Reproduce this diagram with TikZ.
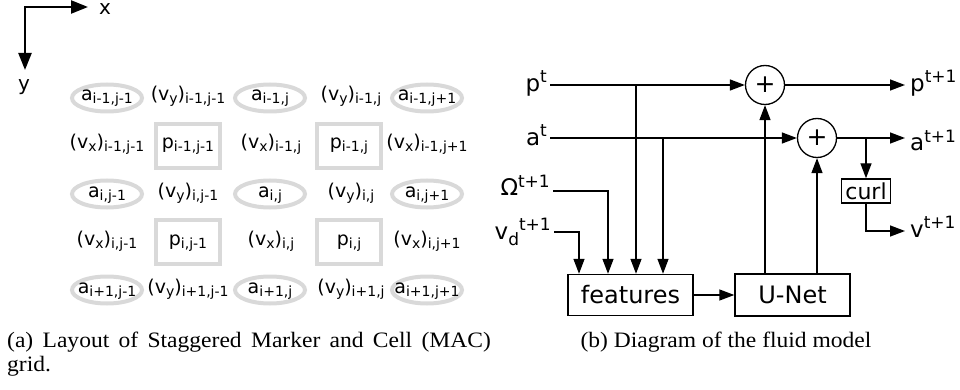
\documentclass[tikz,border=0pt]{standalone}
\usepackage{fontspec}
\setmainfont{Liberation Serif}
\newfontfamily\dv{DejaVu Sans}
\usetikzlibrary{arrows.meta,shapes.geometric}
\definecolor{cellgray}{HTML}{D9D9D9}

% lowered / raised indices in the sans labels
\newcommand\gsub[1]{\raisebox{-3pt}{\fontsize{14}{14}\selectfont #1}}
\newcommand\dsup[1]{\raisebox{9pt}{\fontsize{17}{17}\selectfont #1}}
\newcommand\dsub[1]{\raisebox{-6pt}{\fontsize{17}{17}\selectfont #1}}
% caption lettering, slightly widened
\newcommand\capwide[1]{\scalebox{1.07}[1]{#1}}

\tikzset{
  ring/.style={ellipse, draw=cellgray, line width=4pt, minimum width=70pt, minimum height=27pt, inner sep=0pt},
  pbox/.style={rectangle, draw=cellgray, line width=4pt, minimum width=64pt, minimum height=44pt, inner sep=0pt},
  gtxt/.style={font=\dv\fontsize{19}{19}\selectfont, inner sep=0pt, anchor=base},
  axis/.style={line width=2.3pt, line join=miter, {Triangle[length=17pt,width=13pt]}-{Triangle[length=17pt,width=13pt]}},
  axlbl/.style={font=\dv\fontsize{20}{20}\selectfont, inner sep=0pt, anchor=base},
  flow/.style={line width=1.4pt, -{Triangle[length=15pt,width=11pt]}},
  blk/.style={rectangle, draw, line width=1.4pt, inner sep=0pt, font=\dv\fontsize{24}{24}\selectfont},
  sumnode/.style={circle, draw, line width=1.3pt, minimum size=39pt, inner sep=0pt, font=\dv\fontsize{25}{25}\selectfont},
  inlbl/.style={font=\dv\fontsize{23}{23}\selectfont, inner ysep=0pt, inner xsep=3pt, anchor=base east},
  outlbl/.style={font=\dv\fontsize{23}{23}\selectfont, inner ysep=0pt, inner xsep=5pt, anchor=base west},
  captxt/.style={font=\fontsize{22}{22}\selectfont, inner sep=0pt}
}

\begin{document}
\begin{tikzpicture}[x=1pt,y=-1pt]
\useasboundingbox (0,0) rectangle (960,390);

% ---------- axes ----------
\coordinate (org) at (25,7);
\coordinate (xtip) at (88,7);
\coordinate (ytip) at (25,70);
\draw[axis] (xtip) -- (org) -- (ytip);
\node[axlbl] (xl) at (105,15) {x};
\node[axlbl] (yl) at (24,91) {y};

% ---------- MAC grid: rings and boxes ----------
\foreach \y/\r in {98/1,194/3,290/5}
  \foreach \x/\c in {107/1,270/3,427/5}
    \node[ring] (ring\r\c) at (\x,\y) {};
\foreach \y/\r in {146/2,242/4}
  \foreach \x/\c in {188/2,349/4}
    \node[pbox] (box\r\c) at (\x,\y) {};

% row 1
\node[gtxt] (t11) at (107,101) {a\gsub{i-1,j-1}};
\node[gtxt] (t12) at (188,101) {(v\gsub{y})\gsub{i-1,j-1}};
\node[gtxt] (t13) at (270,101) {a\gsub{i-1,j}};
\node[gtxt] (t14) at (351,101) {(v\gsub{y})\gsub{i-1,j}};
\node[gtxt] (t15) at (427,101) {a\gsub{i-1,j+1}};
% row 2
\node[gtxt] (t21) at (107,149) {(v\gsub{x})\gsub{i-1,j-1}};
\node[gtxt] (t22) at (188,149) {p\gsub{i-1,j-1}};
\node[gtxt] (t23) at (271,149) {(v\gsub{x})\gsub{i-1,j}};
\node[gtxt] (t24) at (349,149) {p\gsub{i-1,j}};
\node[gtxt] (t25) at (427,149) {(v\gsub{x})\gsub{i-1,j+1}};
% row 3
\node[gtxt] (t31) at (107,197) {a\gsub{i,j-1}};
\node[gtxt] (t32) at (188,197) {(v\gsub{y})\gsub{i,j-1}};
\node[gtxt] (t33) at (270,197) {a\gsub{i,j}};
\node[gtxt] (t34) at (351,197) {(v\gsub{y})\gsub{i,j}};
\node[gtxt] (t35) at (427,197) {a\gsub{i,j+1}};
% row 4
\node[gtxt] (t41) at (107,245) {(v\gsub{x})\gsub{i,j-1}};
\node[gtxt] (t42) at (188,245) {p\gsub{i,j-1}};
\node[gtxt] (t43) at (271,245) {(v\gsub{x})\gsub{i,j}};
\node[gtxt] (t44) at (349,245) {p\gsub{i,j}};
\node[gtxt] (t45) at (427,245) {(v\gsub{x})\gsub{i,j+1}};
% row 5
\node[gtxt] (t51) at (107,293) {a\gsub{i+1,j-1}};
\node[gtxt] (t52) at (188,293) {(v\gsub{y})\gsub{i+1,j-1}};
\node[gtxt] (t53) at (270,293) {a\gsub{i+1,j}};
\node[gtxt] (t54) at (351,293) {(v\gsub{y})\gsub{i+1,j}};
\node[gtxt] (t55) at (427,293) {a\gsub{i+1,j+1}};

% ---------- fluid model ----------
\node[sumnode] (s1) at (765,85) {+};
\node[sumnode] (s2) at (817,138) {+};
\node[blk, minimum width=125pt, minimum height=41pt] (feat) at (630.5,295) {features};
\node[blk, minimum width=115pt, minimum height=42pt] (unet) at (792.5,295) {U-Net};
\node[blk, minimum width=49pt, minimum height=24pt, font=\dv\fontsize{22}{22}\selectfont] (curl) at (866,191) {curl};

% inputs
\node[inlbl] (pt) at (550,92) {p\dsup{t}};
\node[inlbl] (at) at (550,146) {a\dsup{t}};
\node[inlbl] (om) at (553,196) {Ω\dsup{t+1}};
\node[inlbl] (vd) at (554,239) {v\dsub{d}\dsup{t+1}};
% outputs
\node[outlbl] (pn) at (905,92) {p\dsup{t+1}};
\node[outlbl] (an) at (905,151) {a\dsup{t+1}};
\node[outlbl] (vn) at (905,237) {v\dsup{t+1}};

% junctions on the state lines
\coordinate (pj) at (s1.west -| 636,0);
\coordinate (aj) at (s2.west -| 663,0);
\coordinate (cj) at (s2.east -| curl.north);
\coordinate (vturn) at (curl.south |- 0,231);

\draw[flow] (pt.east |- s1.west) -- (s1.west);
\draw[flow] (s1.east) -- (s1.east -| pn.west);
\draw[flow] (at.east |- s2.west) -- (s2.west);
\draw[flow] (s2.east) -- (s2.east -| an.west);
\draw[flow] (cj) -- (curl.north);
\draw[flow] (curl.south) -- (vturn) -- (vturn -| vn.west);

\draw[flow] (om.east |- 0,191) -| (feat.north -| 608,0);
\draw[flow] (vd.east |- 0,232) -| (feat.north -| 579,0);
\draw[flow] (pj) -- (pj |- feat.north);
\draw[flow] (aj) -- (aj |- feat.north);

\draw[flow] (feat.east) -- (unet.west);
\draw[flow] (unet.north -| s1.south) -- (s1.south);
\draw[flow] (unet.north -| s2.south) -- (s2.south);

% ---------- captions ----------
\node[captxt, anchor=base west] (capa1) at (7,347) {\capwide{\makebox[452pt][s]{(a) Layout of Staggered Marker and Cell (MAC)}}};
\node[captxt, anchor=base west] (capa2) at (7,371) {\capwide{grid.}};
\node[captxt, anchor=base] (capb) at (726,347) {\capwide{(b) Diagram of the fluid model}};
\end{tikzpicture}
\end{document}
